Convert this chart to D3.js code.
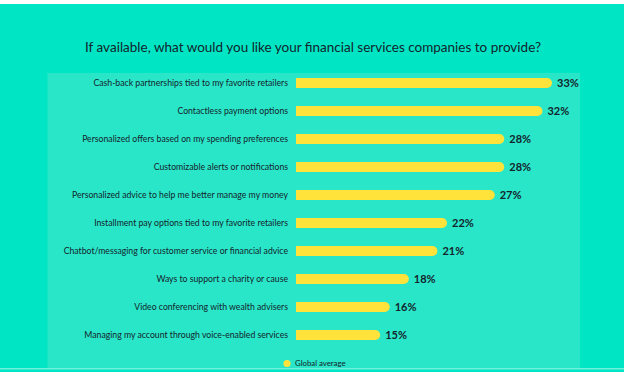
<!DOCTYPE html>
<html><head><meta charset="utf-8">
<script src="https://cdn.jsdelivr.net/npm/d3@7"></script>
<style>html,body{margin:0;padding:0;background:#00e6c4;}svg{display:block;}</style>
</head><body>
<script>
const categories = [
  "Cash-back partnerships tied to my favorite retailers",
  "Contactless payment options",
  "Personalized offers based on my spending preferences",
  "Customizable alerts or notifications",
  "Personalized advice to help me better manage my money",
  "Installment pay options tied to my favorite retailers",
  "Chatbot/messaging for customer service or financial advice",
  "Ways to support a charity or cause",
  "Video conferencing with wealth advisers",
  "Managing my account through voice-enabled services"
];
const values = [33, 32, 28, 28, 27, 22, 21, 18, 16, 15];
const seriesName = "Global average";
const title = "If available, what would you like your financial services companies to provide?";

const W = 624, H = 372;
const svg = d3.select("body").append("svg").attr("width", W).attr("height", H);
const font = "Lato, 'Open Sans', sans-serif";
const dark = "#13242c";

svg.append("rect").attr("width", W).attr("height", H).attr("fill", "#00e6c4");
svg.append("rect").attr("width", W).attr("height", 4).attr("fill", "#ffffff");
svg.append("rect").attr("x", 0).attr("y", 368).attr("width", W).attr("height", 1.5).attr("fill", "#6ef0da");
svg.append("rect").attr("x", 47.5).attr("y", 73).attr("width", 532.5).attr("height", 295).attr("fill", "#2ae6c8");

svg.append("text").attr("x", 313).attr("y", 52).attr("text-anchor", "middle")
  .attr("font-family", font).attr("font-size", 13.5).attr("fill", dark).text(title);

const x = d3.scaleLinear().domain([0, 33]).range([237, 552]);
const y = d3.scaleBand().domain(categories).range([69, 349]);
const barStart = 296, bh = 10, r = 5;

const g = svg.append("g");
categories.forEach((c, i) => {
  const v = values[i];
  const cy = y(c) + y.bandwidth() / 2;
  const x1 = x(v);
  const top = cy - bh / 2;
  const p = d3.path();
  p.moveTo(barStart, top);
  p.lineTo(x1 - r, top);
  p.arc(x1 - r, cy, r, -Math.PI / 2, Math.PI / 2);
  p.lineTo(barStart, top + bh);
  p.closePath();
  g.append("path").attr("d", p.toString()).attr("fill", "#ffe33a");
  g.append("text").attr("x", 288).attr("y", cy).attr("dy", "0.35em").attr("text-anchor", "end")
    .attr("font-family", font).attr("font-size", 8.7).attr("fill", dark).text(c);
  g.append("text").attr("x", x1 + 5).attr("y", cy).attr("dy", "0.36em")
    .attr("font-family", font).attr("font-size", 11).attr("font-weight", "bold").attr("fill", dark).text(v + "%");
});

svg.append("circle").attr("cx", 287).attr("cy", 363.5).attr("r", 3.6).attr("fill", "#ffe33a");
svg.append("text").attr("x", 295).attr("y", 363.5).attr("dy", "0.35em")
  .attr("font-family", font).attr("font-size", 7.8).attr("fill", dark).text(seriesName);
</script>
</body></html>
